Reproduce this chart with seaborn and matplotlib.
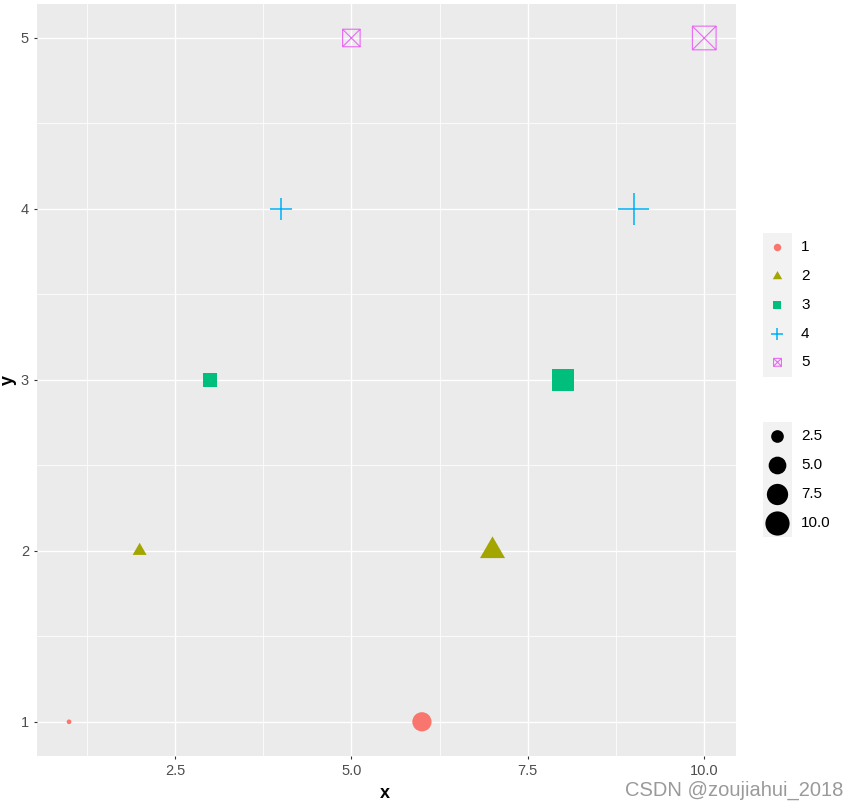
import numpy as np
import pandas as pd
import matplotlib
matplotlib.use("Agg")
import matplotlib.pyplot as plt
import seaborn as sns
from matplotlib.markers import MarkerStyle
from matplotlib.path import Path
from matplotlib.transforms import Affine2D
from matplotlib.patches import Rectangle

# ---------------- data ----------------
x_vals = [1, 2, 3, 4, 5, 6, 7, 8, 9, 10]
y_vals = [1, 2, 3, 4, 5, 1, 2, 3, 4, 5]
shape_vals = ["1", "2", "3", "4", "5", "1", "2", "3", "4", "5"]
size_vals = [1, 2, 3, 4, 5, 6, 7, 8, 9, 10]
shape_levels = ["1", "2", "3", "4", "5"]
size_breaks = [2.5, 5.0, 7.5, 10.0]
size_break_labels = ["2.5", "5.0", "7.5", "10.0"]
x_ticks = [2.5, 5.0, 7.5, 10.0]
x_tick_labels = ["2.5", "5.0", "7.5", "10.0"]
y_ticks = [1, 2, 3, 4, 5]
y_tick_labels = ["1", "2", "3", "4", "5"]

level_colors = ["#F8766D", "#A3A500", "#00BF7D", "#00B0F6", "#E76BF3"]

df = pd.DataFrame({"x": x_vals, "y": y_vals, "shape": shape_vals, "size": size_vals})

plt.rcParams["font.family"] = ["Liberation Sans", "DejaVu Sans"]

W, H = 845, 809
DPI = 100
fig = plt.figure(figsize=(W / DPI, H / DPI), dpi=DPI)
fig.patch.set_facecolor("white")

# panel in pixel coordinates
pl, pr, pt_, pb = 37.3, 736.0, 3.8, 756.0
ax = fig.add_axes([pl / W, 1 - pb / H, (pr - pl) / W, (pb - pt_) / H])
ax.set_facecolor("#EBEBEB")
for s in ax.spines.values():
    s.set_visible(False)

# ggplot-like size scale (area palette, range 1..6)
smin, smax = min(size_vals), max(size_vals)
def gg_size(v):
    return 1 + 5 * np.sqrt((v - smin) / (smax - smin))

# marker definitions
tri = MarkerStyle("^", transform=Affine2D().translate(0, 1 / 6).scale(1, 0.866))
boxx_path = Path(
    [(-1, -1), (1, -1), (1, 1), (-1, 1), (-1, -1), (-1, -1), (1, 1), (-1, 1), (1, -1)],
    [Path.MOVETO, Path.LINETO, Path.LINETO, Path.LINETO, Path.CLOSEPOLY,
     Path.MOVETO, Path.LINETO, Path.MOVETO, Path.LINETO],
)
boxx = MarkerStyle(boxx_path, fillstyle="none")

# (marker, px per size unit, px offset, linewidth)
specs = {
    "1": ("o", 3.9, 0.8, 0.0),
    "2": (tri, 4.58, 1.8, 0.0),
    "3": ("s", 4.0, 0.8, 0.0),
    "4": ("+", 5.0, 3.0, 1.1),
    "5": (boxx, 3.7, 1.5, 0.8),
}

def px_to_s(px):
    return (px * 72.0 / DPI) ** 2

for lev, col in zip(shape_levels, level_colors):
    sub = df[df["shape"] == lev]
    m, a, b, lw = specs[lev]
    sizes = {v: px_to_s(a * gg_size(v) + b) for v in sub["size"]}
    kw = dict(linewidth=lw)
    if lw == 0:
        kw["edgecolor"] = "none"
    sns.scatterplot(data=sub, x="x", y="y", size="size", sizes=sizes,
                    color=col, marker=m, legend=False, ax=ax, zorder=3, **kw)

ax.set_xlim(0.55, 10.45)
ax.set_ylim(0.8, 5.2)
ax.set_xticks(x_ticks)
ax.set_xticklabels(x_tick_labels)
ax.set_yticks(y_ticks)
ax.set_yticklabels(y_tick_labels)
xstep = x_ticks[1] - x_ticks[0]
ystep = y_ticks[1] - y_ticks[0]
xminor = [v for v in np.arange(x_ticks[0] - xstep / 2, 10.45, xstep) if 0.55 < v < 10.45]
yminor = [v for v in np.arange(y_ticks[0] - ystep / 2, 5.2, ystep) if 0.8 < v < 5.2]
ax.set_xticks(xminor, minor=True)
ax.set_yticks(yminor, minor=True)
ax.grid(which="major", color="white", linewidth=1.0)
ax.grid(which="minor", color="white", linewidth=0.55)
ax.set_axisbelow(True)
ax.tick_params(which="major", length=2.5, width=0.8, color="#333333",
               labelcolor="#4D4D4D", labelsize=10.5, pad=3.5)
ax.tick_params(which="minor", length=0)
ax.set_xlabel("")
ax.set_ylabel("")

fig.text(385 / W, 1 - 793 / H, "x", ha="center", va="center", fontsize=13,
         fontweight="bold", color="black")
fig.text(8 / W, 1 - 380 / H, "y", ha="center", va="center", fontsize=13,
         fontweight="bold", color="black", rotation=90)

# ---------------- legends (drawn in pixel space) ----------------
lax = fig.add_axes([0, 0, 1, 1], zorder=5)
lax.set_xlim(0, W)
lax.set_ylim(H, 0)
lax.axis("off")
lax.patch.set_alpha(0)

kx0, kw_ = 763.0, 29.0
kcx = kx0 + kw_ / 2
key_h = 28.8

# shape / colour legend
top1 = 232.7
lax.add_patch(Rectangle((kx0, top1), kw_, key_h * len(shape_levels),
                        facecolor="#F2F2F2", edgecolor="none"))
for i, (lev, col) in enumerate(zip(shape_levels, level_colors)):
    cy = top1 + key_h * (i + 0.5)
    m, a, b, lw = specs[lev]
    s = px_to_s(a * 1.5 + b + 0.8)
    if lw == 0:
        lax.scatter([kcx], [cy], s=s, marker=m, color=col, linewidth=0)
    else:
        lax.scatter([kcx], [cy], s=s, marker=m, color=col, linewidth=lw)
    lax.text(801, cy, lev, ha="left", va="center", fontsize=11, color="black")

# size legend
top2 = 421.7
m, a, b, lw = specs["1"]
diams = [a * gg_size(v) + b for v in size_breaks]
heights = [max(key_h, d + 5) for d in diams]
lax.add_patch(Rectangle((kx0, top2), kw_, sum(heights),
                        facecolor="#F2F2F2", edgecolor="none"))
y0 = top2
for v, lab, d, h in zip(size_breaks, size_break_labels, diams, heights):
    cy = y0 + h / 2
    lax.scatter([kcx], [cy], s=px_to_s(d), marker="o", color="black", linewidth=0)
    lax.text(801, cy, lab, ha="left", va="center", fontsize=11, color="black")
    y0 += h

# watermark
fig.text(843 / W, 1 - 790 / H, "CSDN @zoujiahui_2018", ha="right", va="center",
         fontsize=14.5, color="#9a9a9a")

fig.savefig("out.png", dpi=DPI)
